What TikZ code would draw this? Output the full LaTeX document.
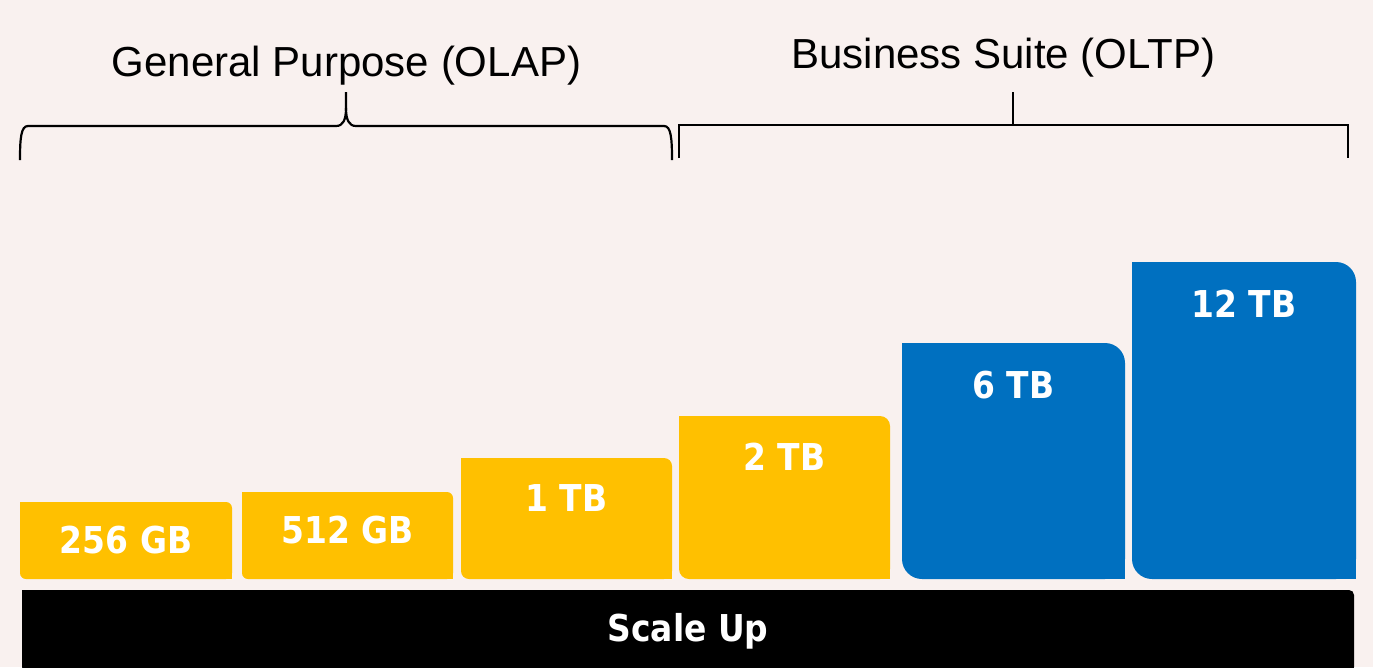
\documentclass[tikz,border=0pt]{standalone}
\usepackage{fontspec}
\setmainfont{Liberation Sans}
\newfontfamily\barfont[FakeStretch=0.89]{DejaVu Sans}
\definecolor{bgc}{RGB}{249,241,239}
\definecolor{ylw}{RGB}{255,192,0}
\definecolor{blu}{RGB}{0,112,192}
\newcommand{\mybar}[6]{%
  \fill[#6, rounded corners=#5] (#1,#3) rectangle (#2,#4);
  \fill[#6] (#1,#3) rectangle ({#1+#5+1},{#3+#5+1});
  \fill[#6] ({#2-#5-1},{#4-#5-1}) rectangle (#2,#4);
}
\begin{document}
\begin{tikzpicture}[x=1pt,y=-1pt,
  title/.style={anchor=base, inner sep=0pt, font=\fontsize{42}{50}\selectfont, text=black},
  lbl/.style={anchor=base, inner sep=0pt, text=white, font=\barfont\bfseries\fontsize{37}{44}\selectfont},
  brace/.style={line width=2.2pt, draw=black, line join=round}]
\useasboundingbox (0,0) rectangle (1373,667);
\fill[bgc] (0,0) rectangle (1373,667);
% titles
\node[title] (tolap) at (346.5,76) {General Purpose (OLAP)};
\node[title] (toltp) at (1003.5,68) {Business Suite (OLTP)};
% left curly brace
\draw[brace] (20,160) .. controls (20,138) and (21,126) .. (28,126) -- (336,126)
  .. controls (343,126) and (346,120) .. (346,108) -- (346,92);
\draw[brace] (346,108) .. controls (346,120) and (349,126) .. (356,126) -- (664,126)
  .. controls (671,126) and (672,138) .. (672,160);
% right bracket
\draw[brace, line join=miter] (679,158) -- (679,125) -- (1348,125) -- (1348,158);
\draw[brace] (1013,125) -- (1013,92);
% bars
\mybar{20}{232}{502}{579}{6}{ylw}
\mybar{242}{453}{492}{579}{6}{ylw}
\mybar{461}{672}{458}{579}{8}{ylw}
\mybar{679}{890}{416}{579}{10}{ylw}
\mybar{902}{1125}{343}{579}{20}{blu}
\mybar{1132}{1356}{262}{579}{20}{blu}
\mybar{22}{1354}{590}{672}{5}{black}
% labels
\node[lbl] (b256) at (126,553) {256 GB};
\node[lbl] (b512) at (347.5,543) {512 GB};
\node[lbl] (b1) at (566.5,511) {1 TB};
\node[lbl] (b2) at (784.5,470) {2 TB};
\node[lbl] (b6) at (1013.5,398) {6 TB};
\node[lbl] (b12) at (1244,317) {12 TB};
\node[lbl] (sup) at (688,641) {Scale Up};
\end{tikzpicture}
\end{document}
